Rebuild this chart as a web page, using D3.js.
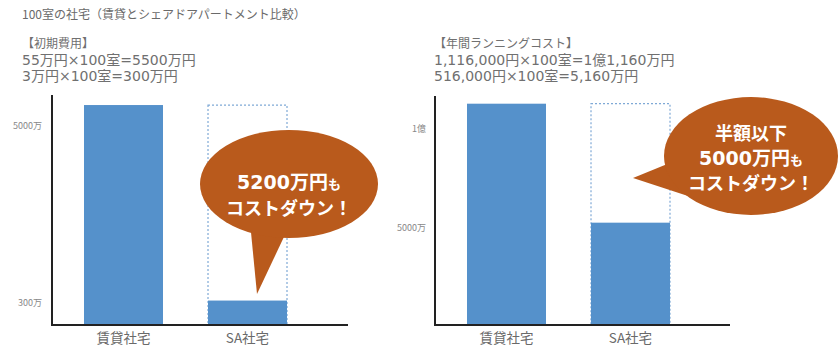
<!DOCTYPE html>
<html><head><meta charset="utf-8">
<script src="https://cdn.jsdelivr.net/npm/d3@7"></script>
<style>body{margin:0;background:#fff}svg{display:block}text{font-family:"Noto Sans CJK JP","Noto Sans",sans-serif}</style>
</head><body>
<script>
// Data
const categories = ["賃貸社宅", "SA社宅"];
const initialCost = [5500, 300];        // 万円
const runningCost = [11160, 5160];      // 万円
const initialTicks = [300, 5000];
const initialTickLabels = ["300万", "5000万"];
const runningTicks = [5000, 10000];
const runningTickLabels = ["5000万", "1億"];
const titleText = "100室の社宅（賃貸とシェアドアパートメント比較）";
const leftNotes = ["【初期費用】", "55万円×100室=5500万円", "3万円×100室=300万円"];
const rightNotes = ["【年間ランニングコスト】", "1,116,000円×100室=1億1,160万円", "516,000円×100室=5,160万円"];
const leftBubble = ["5200万円", "コストダウン！"];
const rightBubble = ["半額以下", "5000万円", "コストダウン！"];

const W = 840, H = 356;
const svg = d3.select("body").append("svg").attr("width", W).attr("height", H);
const BAR = "#5591cb", BUB = "#b95a1c", GREY = "#6a6a6a";

svg.append("text").attr("x", 22).attr("y", 19).attr("font-size", 12).attr("fill", GREY).text(titleText);
function notes(arr, x) {
  arr.forEach((t, i) => {
    const tx = svg.append("text").attr("x", x).attr("y", 48 + i * 16.5).attr("fill", "#707070");
    if (i === 0) tx.attr("font-size", 12);
    else tx.attr("font-size", 14).style("font-family", '"DejaVu Sans","Noto Sans CJK JP",sans-serif');
    tx.text(t);
  });
}
notes(leftNotes, 22);
notes(rightNotes, 434);

function chart(opts) {
  const g = svg.append("g");
  const x = d3.scaleBand().domain(categories).range([opts.x0, opts.x0 + 267]).paddingInner(0.363).paddingOuter(0.258);
  const y = d3.scaleLinear().domain(opts.domain).range([325, opts.top]);
  const ax = g.append("g").attr("transform", `translate(${opts.x0},0)`)
    .call(d3.axisLeft(y).tickValues(opts.ticks).tickSize(0).tickPadding(opts.pad)
      .tickFormat((d, i) => opts.tickLabels[i]));
  ax.select(".domain").remove();
  ax.selectAll("text").attr("font-size", 9).attr("fill", "#888").attr("dy", "0.5em")
    .style("font-family", '"Noto Sans CJK JP",sans-serif');
  g.append("rect").attr("x", x(categories[1])).attr("width", x.bandwidth())
    .attr("y", y(opts.values[0])).attr("height", 325 - y(opts.values[0]))
    .attr("fill", "none").attr("stroke", "#7fa9d6").attr("stroke-width", 1.2).attr("stroke-dasharray", "2,2");
  g.selectAll(".bar").data(opts.values).join("rect")
    .attr("x", (d, i) => x(categories[i])).attr("width", x.bandwidth())
    .attr("y", d => y(d)).attr("height", d => 325 - y(d)).attr("fill", BAR);
  g.append("line").attr("x1", opts.x0).attr("x2", opts.x0).attr("y1", opts.top).attr("y2", 326)
    .attr("stroke", "#222").attr("stroke-width", 2);
  g.append("line").attr("x1", opts.x0 - 1).attr("x2", opts.xEnd).attr("y1", 325).attr("y2", 325)
    .attr("stroke", "#222").attr("stroke-width", 2);
  categories.forEach(c => g.append("text").attr("x", x(c) + x.bandwidth() / 2).attr("y", 343)
    .attr("text-anchor", "middle").attr("font-size", 13.5).attr("fill", GREY).text(c));
}
chart({x0: 52, top: 95, xEnd: 348, domain: [-350, 5767], values: initialCost, ticks: initialTicks, tickLabels: initialTickLabels, pad: 10});
chart({x0: 435, top: 96, xEnd: 730, domain: [0, 11548], values: runningCost, ticks: runningTicks, tickLabels: runningTickLabels, pad: 9});

function bubble(cx, cy, rx, ry, tail, lines, y0, lh) {
  svg.append("path").attr("d", `M${tail[0][0]},${tail[0][1]}L${tail[1][0]},${tail[1][1]}L${tail[2][0]},${tail[2][1]}Z`).attr("fill", BUB);
  svg.append("ellipse").attr("cx", cx).attr("cy", cy).attr("rx", rx).attr("ry", ry).attr("fill", BUB);
  lines.forEach((t, i) => {
    const tx = svg.append("text").attr("x", cx).attr("y", y0 + i * lh).attr("text-anchor", "middle")
      .attr("font-weight", "bold").attr("fill", "#fff");
    if (t.endsWith("万円")) {
      tx.attr("font-size", 19).style("font-family", '"DejaVu Sans","Noto Sans CJK JP",sans-serif').text(t);
      tx.append("tspan").attr("font-size", 13).style("font-family", '"Noto Sans CJK JP",sans-serif').text("も");
    } else {
      tx.attr("font-size", 18).text(t);
    }
  });
}
bubble(289, 184, 89, 54, [[250, 222], [257, 294], [291, 222]], leftBubble, 189, 26);
bubble(751, 156, 87, 59, [[682, 158], [633, 178], [688, 196]], rightBubble, 140, 25);
</script>
</body></html>
